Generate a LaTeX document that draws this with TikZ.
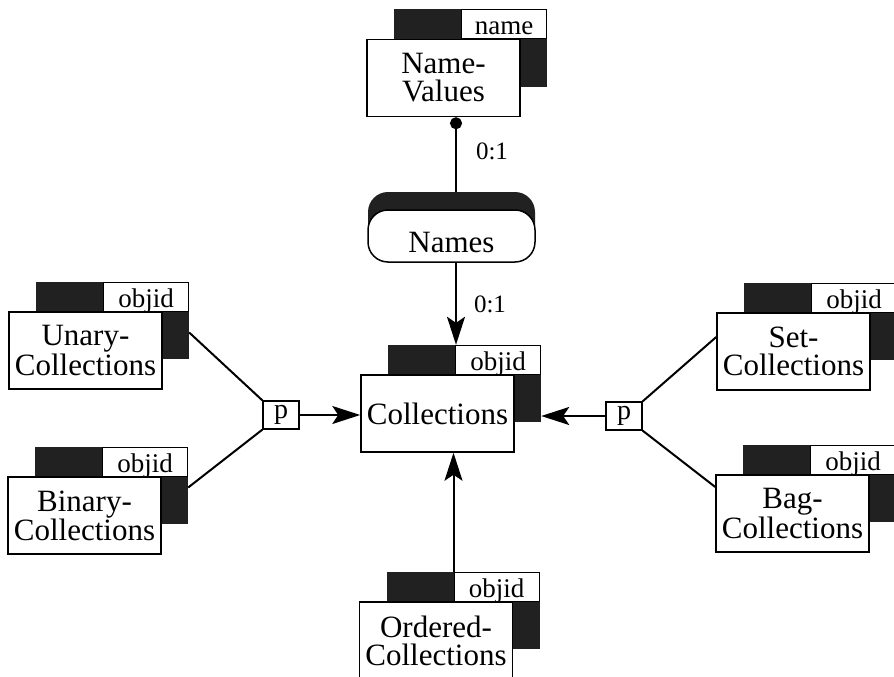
\documentclass[tikz,border=0pt]{standalone}
\usepackage{fontspec}
\setmainfont{Liberation Serif}
\usetikzlibrary{arrows.meta}

\newcommand\mainfs{\fontsize{31}{28}\selectfont}
\newcommand\keyfs{\fontsize{27}{27}\selectfont}
\newcommand\cardfs{\fontsize{25}{25}\selectfont}

\tikzset{
  shade box/.style={fill=black!87, draw=none, minimum width=153pt,
    minimum height=77pt, inner sep=0pt},
  key box/.style={draw, line width=1.2pt, fill=white, minimum width=85pt,
    minimum height=29pt, inner sep=0pt},
  key text/.style={font=\keyfs, inner sep=0pt, anchor=base},
  entity box/.style={draw, line width=1.5pt, fill=white, minimum width=153pt,
    minimum height=77pt, inner sep=0pt, align=center, font=\mainfs},
  names back/.style={fill=black!87, draw=none, minimum width=167pt,
    minimum height=53pt, rounded corners=20pt, inner sep=0pt},
  names front/.style={draw, line width=1.5pt, fill=white, minimum width=167pt,
    minimum height=52pt, rounded corners=20pt, inner sep=0pt},
  pbox/.style={draw, line width=1.2pt, fill=white, minimum width=36pt,
    minimum height=28pt, inner sep=0pt, font=\fontsize{28}{28}\selectfont},
  conn/.style={line width=2pt},
  arr/.style={conn, -{Stealth[length=28pt, width=18pt, inset=6pt]}},
  card/.style={font=\cardfs, inner sep=0pt},
}

% entity: #1 name, #2,#3 centre of the front box, #4 text, #5 key
\newcommand\erbox[5]{%
  \coordinate (#1c) at (#2,#3);
  \node[shade box] (#1s) at ([shift={(27pt,30pt)}]#1c) {};
  \node[key box, anchor=north east] (#1k) at (#1s.north east) {};
  \node[key text] (#1kt) at ([yshift=5pt]#1k.south) {#5};
  \node[entity box] (#1) at (#1c) {#4};
}

\begin{document}
\begin{tikzpicture}[x=1pt, y=-1pt]
  \useasboundingbox (0,0) rectangle (894,677);
  \fill[white] (0,0) rectangle (894,677);
  \clip (0,0) rectangle (894,677);

  \coordinate (axis) at (456,0);

  % entities
  \erbox{nv}{443.5}{78}{Name-\\Values}{name}
  \erbox{unary}{85.5}{350.5}{Unary-\\Collections}{objid}
  \erbox{binary}{84.5}{515.5}{Binary-\\Collections}{objid}
  \erbox{coll}{437.5}{413.5}{Collections}{objid}
  \erbox{set}{793.5}{351.5}{Set-\\Collections}{objid}
  \erbox{bag}{792.5}{513.5}{Bag-\\Collections}{objid}
  \erbox{ord}{436}{640.5}{Ordered-\\Collections}{objid}

  % the Names relationship
  \node[names back] (namesb) at (451.5,218.5) {};
  \node[names front] (names) at (451.5,236) {};
  \node[font=\mainfs, inner sep=0pt, anchor=base] (namest) at (451.5,252) {Names};

  % partition boxes
  \node[pbox] (pl) at (281,415) {p};
  \node[pbox] (pr) at (624,416) {p};

  % connectors
  \draw[conn, {Circle[length=12pt]}-] (nv.south -| axis) -- (namesb.north -| axis);
  \draw[arr] (names.south -| axis) -- (collk.north -| axis);
  \draw[arr] (ordk.north west) -- (coll.south -| ordk.north west);
  \draw[arr] (pl.east) -- (pl.east -| coll.west);
  \draw[arr] (pr.west) -- (pr.west -| colls.east);
  \draw[conn] (pl.north west) -- ([yshift=-12pt]unarys.east);
  \draw[conn] (pl.south west) -- ([yshift=-2pt]binarys.east);
  \draw[conn] (pr.north east) -- ([yshift=14.5pt]set.west);
  \draw[conn] (pr.south east) -- ([yshift=26.5pt]bag.west);

  % cardinalities
  \node[card] (c1) at (492,151) {0:1};
  \node[card] (c2) at (490,304) {0:1};
\end{tikzpicture}
\end{document}
